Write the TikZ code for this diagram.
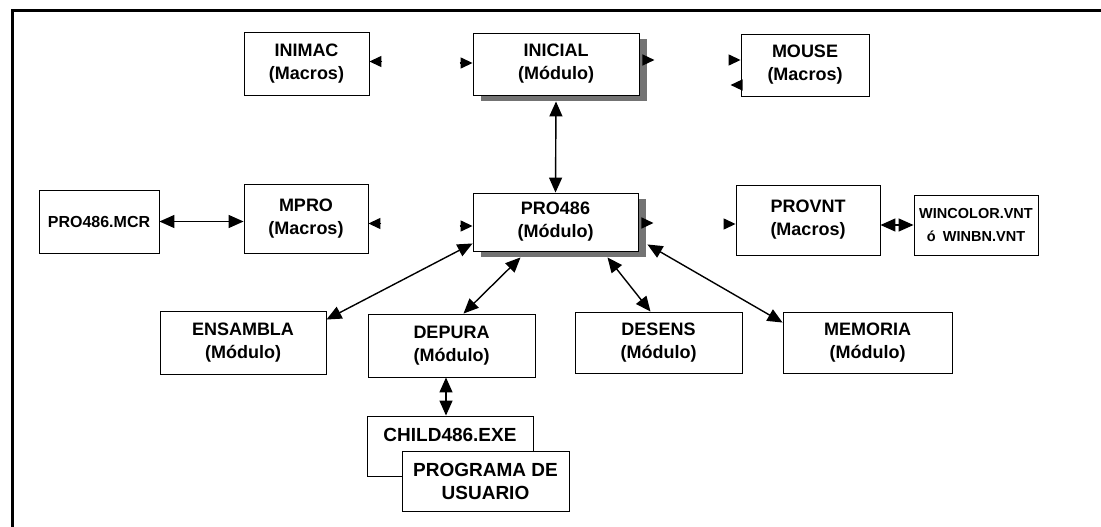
\documentclass[tikz,border=0pt]{standalone}
\usepackage{fontspec}
\setmainfont{Liberation Sans}
\usetikzlibrary{arrows.meta,shadows}

\tikzset{
  caja/.style={draw=black, line width=0.9pt, fill=white, minimum width=#1,
    minimum height=62pt, align=center, inner sep=2pt,
    font=\fontsize{18}{23}\selectfont\bfseries},
  caja/.default=166pt,
  sombra/.style={drop shadow={shadow xshift=8pt, shadow yshift=-6pt,
    fill=black!55, opacity=1}},
  flecha/.style={line width=1.4pt,
    {Triangle[length=15pt,width=13pt]}-{Triangle[length=15pt,width=13pt]}},
  punta/.style={line width=1.4pt, -{Triangle[length=12pt,width=11pt]}},
}

\begin{document}
\begin{tikzpicture}[x=1pt,y=-1pt]
\useasboundingbox (0,0) rectangle (1101,527);
% marco
\draw[line width=3pt] (12,527) -- (12,10.5) -- (1101,10.5);

% fila superior
\node[caja=125pt, minimum height=63pt] (inimac) at (306.5,63.5) {INIMAC\\(Macros)};
\node[caja, sombra] (inicial) at (556,64) {INICIAL\\(Módulo)};
\node[caja=128pt] (mouse) at (805,65) {MOUSE\\(Macros)};

% fila central
\node[caja=120pt, minimum height=63pt, font=\fontsize{16}{21}\selectfont\bfseries] (mcr) at (99,221.5) {PRO486.MCR};
\node[caja=124pt, minimum height=69pt] (mpro) at (306,218.5) {MPRO\\(Macros)};
\node[caja=165pt, minimum height=58pt, sombra] (pro486) at (555.5,222) {PRO486\\(Módulo)};
\node[caja=144pt, minimum height=70pt] (provnt) at (808,220) {PROVNT\\(Macros)};
\node[caja=124pt, minimum height=60pt, font=\fontsize{14.5}{23}\selectfont\bfseries] (wincolor) at (976,225) {WINCOLOR.VNT\\ó\hspace{0.5em}WINBN.VNT};

% fila inferior
\node[caja, minimum height=63pt] (ensambla) at (243,342.5) {ENSAMBLA\\(Módulo)};
\node[caja=167pt, minimum height=63pt] (depura) at (451.5,345.5) {DEPURA\\(Módulo)};
\node[caja=167pt, minimum height=61pt] (desens) at (658.5,342.5) {DESENS\\(Módulo)};
\node[caja=169pt, minimum height=61pt] (memoria) at (867.5,342.5) {MEMORIA\\(Módulo)};

\node[caja, minimum height=60pt, font=\fontsize{19}{23}\selectfont\bfseries] (child) at (450,446) {CHILD486.EXE\\\mbox{}};
\node[caja=167pt, minimum height=60pt, font=\fontsize{19}{23}\selectfont\bfseries] (programa) at (485.5,481) {PROGRAMA DE\\USUARIO};

% conexiones
\draw[flecha] ([yshift=-6pt]inicial.south) -- (pro486.north);
\draw[flecha] (mcr.east) -- (mcr.east -| mpro.west);
\draw[flecha] (wincolor.west -| provnt.east) -- (wincolor.west);
\draw[flecha] ([yshift=8pt]pro486.south west) -- ([yshift=-9pt]ensambla.north east);
\draw[flecha] ([xshift=-35pt,yshift=-6pt]pro486.south) -- ([xshift=12pt]depura.north);
\draw[flecha] ([xshift=52pt,yshift=-6pt]pro486.south) -- ([xshift=-8pt]desens.north);
\draw[flecha] ([xshift=9pt,yshift=7pt]pro486.south east) -- ([yshift=-11pt]memoria.north west);
\draw[flecha] ([xshift=-4pt]child.north |- depura.south) -- ([xshift=-4pt]child.north);

% puntas sueltas
\draw[punta] ([xshift=13pt,yshift=2pt]inimac.east) -- ([yshift=2pt]inimac.east);
\draw[punta] ([xshift=-13pt,yshift=1pt]inicial.west) -- ([yshift=1pt]inicial.west);
\draw[punta] ([xshift=6pt,yshift=4pt]inicial.east) -- ([xshift=15pt,yshift=4pt]inicial.east);
\draw[punta] ([xshift=-11pt,yshift=5pt]mouse.west) -- ([yshift=5pt]mouse.west);
\draw[punta] ([yshift=-20pt]mouse.west) -- ([xshift=-10pt,yshift=-20pt]mouse.west);
\draw[punta] ([xshift=13pt,yshift=-5pt]mpro.east) -- ([yshift=-5pt]mpro.east);
\draw[punta] ([xshift=-13pt,yshift=-4pt]pro486.west) -- ([yshift=-4pt]pro486.west);
\draw[punta] ([xshift=6pt,yshift=-1pt]pro486.east) -- ([xshift=15pt,yshift=-1pt]pro486.east);
\draw[punta] ([xshift=-12pt,yshift=-4pt]provnt.west) -- ([yshift=-4pt]provnt.west);
\end{tikzpicture}
\end{document}
